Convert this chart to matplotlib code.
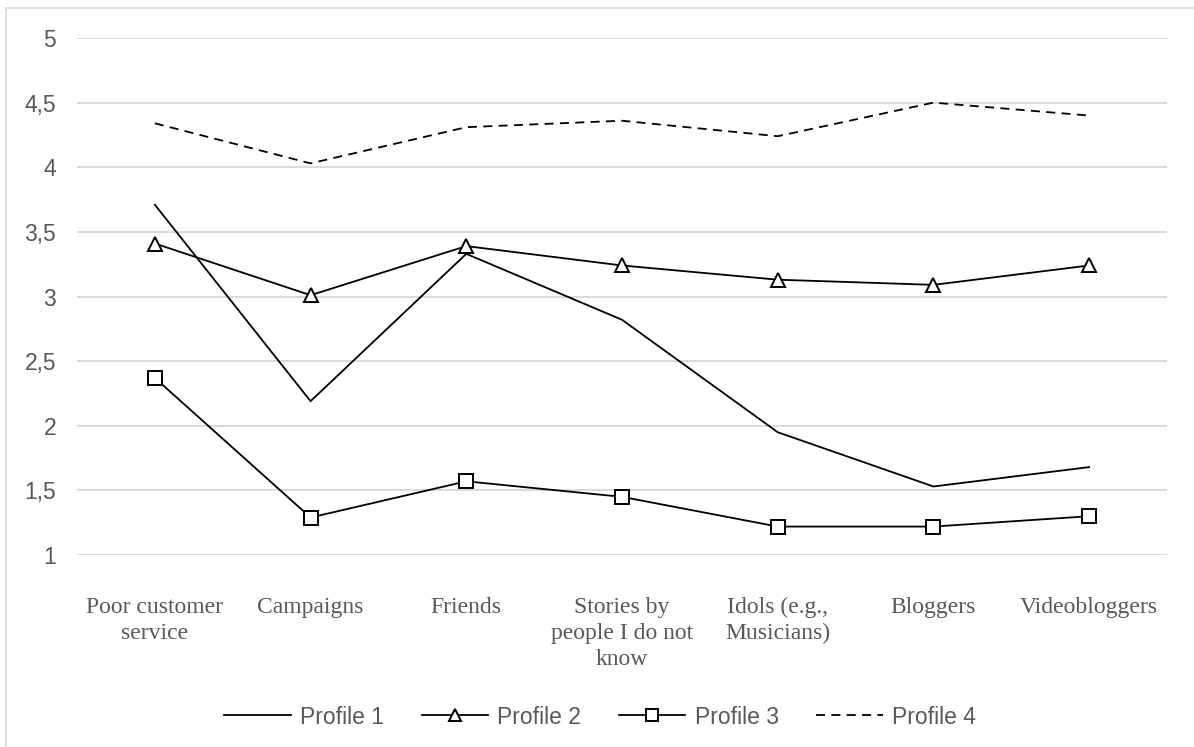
import matplotlib
matplotlib.use("Agg")
import matplotlib.pyplot as plt
from matplotlib.lines import Line2D

categories = ["Poor customer\nservice", "Campaigns", "Friends",
              "Stories by\npeople I do not\nknow", "Idols (e.g.,\nMusicians)",
              "Bloggers", "Videobloggers"]
profile_1 = [3.71, 2.19, 3.33, 2.82, 1.95, 1.53, 1.68]
profile_2 = [3.41, 3.01, 3.39, 3.24, 3.13, 3.09, 3.24]
profile_3 = [2.37, 1.29, 1.57, 1.45, 1.22, 1.22, 1.30]
profile_4 = [4.34, 4.03, 4.31, 4.36, 4.24, 4.50, 4.40]
y_ticks = [1, 1.5, 2, 2.5, 3, 3.5, 4, 4.5, 5]
y_tick_labels = ["1", "1,5", "2", "2,5", "3", "3,5", "4", "4,5", "5"]

W, H = 1194, 747
fig = plt.figure(figsize=(W / 100, H / 100), dpi=100)
fig.patch.set_facecolor("white")

# outer chart frame (left and top edges)
fig.add_artist(Line2D([6 / W, 6 / W], [0, 1 - 8 / H], transform=fig.transFigure,
                      color="#d9d9d9", linewidth=1.2))
fig.add_artist(Line2D([6 / W, 1], [1 - 8 / H, 1 - 8 / H], transform=fig.transFigure,
                      color="#d9d9d9", linewidth=1.2))

ax = fig.add_axes([77 / W, 1 - 555 / H, (1167 - 77) / W, (555 - 38) / H])
x = list(range(len(categories)))

lw = 1.3
ax.plot(x, profile_1, color="black", linewidth=lw, label="Profile 1")
ax.plot(x, profile_2, color="black", linewidth=lw, marker="^", markersize=10,
        markerfacecolor="white", markeredgecolor="black", markeredgewidth=1.4, label="Profile 2")
ax.plot(x, profile_3, color="black", linewidth=lw, marker="s", markersize=9.5,
        markerfacecolor="white", markeredgecolor="black", markeredgewidth=1.4, label="Profile 3")
ax.plot(x, profile_4, color="black", linewidth=lw, linestyle=(0, (5, 3.5)), label="Profile 4")

ax.set_xlim(-0.5, len(categories) - 0.5)
ax.set_ylim(1, 5)
ax.set_yticks(y_ticks)
ax.set_yticklabels(y_tick_labels, fontfamily="Liberation Sans", fontsize=16.5, color="#595959")
ax.set_xticks(x)
ax.set_xticklabels(categories, fontfamily="Liberation Serif", fontsize=17, color="#595959",
                   linespacing=1.32)
ax.tick_params(axis="both", length=0)
ax.tick_params(axis="x", pad=30)
ax.tick_params(axis="y", pad=15)
ax.yaxis.grid(True, color="#d9d9d9", linewidth=1.4)
ax.set_axisbelow(True)
for s in ax.spines.values():
    s.set_visible(False)

leg = fig.legend(loc="center", bbox_to_anchor=(600 / W, 1 - 717 / H), ncol=4, frameon=False,
                 prop={"family": "Liberation Sans", "size": 16.5}, handlelength=2.9,
                 handletextpad=0.4, columnspacing=1.65, markerscale=0.85)
for t in leg.get_texts():
    t.set_color("#595959")

fig.savefig("out.png", dpi=100, facecolor="white")
